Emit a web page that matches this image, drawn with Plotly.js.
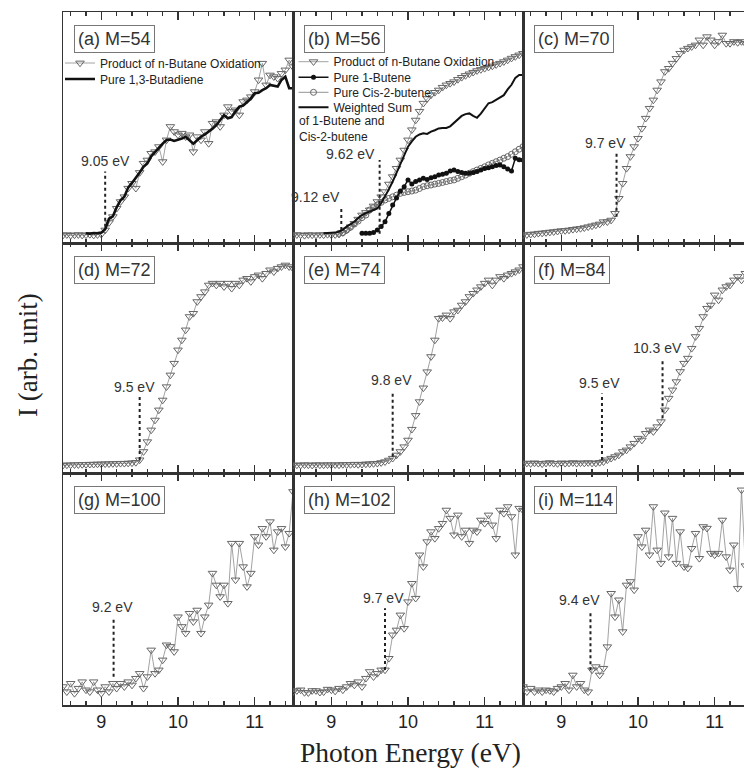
<!DOCTYPE html>
<html><head><meta charset="utf-8">
<script src="https://cdn.plot.ly/plotly-3.0.1.min.js"></script>
<style>html,body{margin:0;padding:0;background:#fff}#chart{width:744px;height:768px}</style>
</head><body><div id="chart"></div>
<script>
// Photon energy grid (eV)
const energy = [8.50,8.55,8.60,8.65,8.70,8.75,8.80,8.85,8.90,8.95,9.00,
9.05,9.10,9.15,9.20,9.25,9.30,9.35,9.40,9.45,9.50,
9.55,9.60,9.65,9.70,9.75,9.80,9.85,9.90,9.95,10.00,
10.05,10.10,10.15,10.20,10.25,10.30,10.35,10.40,10.45,10.50,
10.55,10.60,10.65,10.70,10.75,10.80,10.85,10.90,10.95,11.00,
11.05,11.10,11.15,11.20,11.25,11.30,11.35,11.40,11.45,11.50];

// (a) M=54
const a_product = [3.4,3.6,3.3,3.5,3.6,3.4,3.5,3.7,3.4,3.6,3.8,
5.6,8.8,11.4,15,17.9,20,23.7,25.8,23.7,30.5,
34.5,35.9,38.8,39.5,41.7,35.2,44.6,50.4,48.2,46.8,
47.5,46,46.8,39.5,46,44.6,48.2,43.1,51.8,52.5,
50.4,55.4,59,56.9,57.6,55.4,61.2,61.9,63.3,65.5,
70.6,77.8,68.4,72.7,72,71.3,73.4,74.9,79.2,76.3];
const a_butadiene = [null,null,null,null,null,null,4.2,4.0,4.3,4.2,4.5,
6.0,10.5,11.5,15.5,18.5,20,24,26,28,30.5,
33,34.5,37.5,39.5,41,43,44.6,44.8,44.2,44.6,
45.2,46,44.5,43,44.5,46,47,48.2,49.5,51,
53,55.4,54,54.5,57,59,59.5,61.2,62.5,64.8,
65,66.2,67,68.4,68,67.7,70.6,72,67,67];

// (b) M=56
const b_product = [3.4,3.6,3.5,3.3,3.6,3.5,3.4,3.6,3.5,3.7,3.5,
3.6,3.8,4.5,5.6,7,8.5,10.3,12.1,13.2,14.3,
16,17.9,20,22.2,25.5,28.7,32.3,35.9,40.2,44.6,
49,53.2,57,60.5,62.5,64.1,65.2,66.2,67.4,68.4,
69.1,69.8,70.8,71.7,72.5,73.2,73.9,74.6,75.1,75.6,
76.1,76.6,77.2,77.8,78.5,79.2,80,80.7,81.4,82.1];
const b_1butene = [null,null,null,null,null,null,null,null,null,null,null,
null,null,null,null,null,null,null,4.2,4.2,4.2,
4.5,5.6,7.1,9.2,12.8,16.5,19.5,22.5,24.4,27.3,
25.5,26.6,27.3,28,27.5,28.3,28.7,29.4,29.8,30.2,
31.2,31.6,31,30.5,30.2,30.2,30.5,30.9,31.6,32.3,
32.6,33,33.5,33.8,33,32,31.2,36.7,36,35.9];
const b_cis2butene = [null,null,null,null,null,null,null,null,null,null,null,
null,4.2,4.5,5.6,6.8,8.2,9.5,11,12.1,14.3,
15.3,16.5,17.6,18.6,19.3,20,20.7,21.5,21.9,22.2,
22.5,22.9,23.6,24.4,24.8,25.1,25.5,25.8,26.2,26.6,
27,27.3,28,28.7,29.4,30.2,30.9,31.6,32.3,33,
33.8,34.5,35.2,35.9,36.7,37.4,38.4,39.5,40.6,41.7];
const b_weighted = [null,null,null,null,null,null,null,null,4.2,4.2,4.2,
4.5,4.9,5.8,7.1,8.2,9.2,10.8,12.1,12.9,13.6,
14.2,15,17.2,20,23.2,26.6,30.5,34.5,38.3,41.7,
44,46,47,47.5,47.2,48.2,48.8,49.6,49.8,49.8,
50.5,52,53.5,55,55.8,56.1,55,54.2,56,58.5,
60.5,61,62,63.3,64,66.5,68.5,71.5,72.7,72.7];

// (c)-(i)
const c_product = [3.5,3.6,3.8,3.9,4.2,4.3,4.5,4.7,4.9,5.1,5.3,
5.4,5.6,5.9,6.1,6.3,6.6,7.0,7.4,7.8,8.2,
9.2,9.2,9.9,12.8,19.3,25.8,32.3,37.4,41.7,45.3,
49.6,54,58.3,61.9,66.2,69.8,74.2,75.6,77.8,79.9,
82.1,83.5,84.3,85,85.7,87.9,85.7,89.3,87.9,85.7,
87.2,90,86.4,86.4,87.2,86.8,87.2,86.4,86.8,86.4];
const d_product = [3.4,3.5,3.5,3.6,3.6,3.7,3.7,3.8,3.8,3.9,3.9,
4.0,4.0,4.1,4.1,4.2,4.2,4.3,4.4,4.6,5.7,
9.3,13.6,18.7,23,27.4,31.7,37.5,42.6,47.7,53.5,
57.8,62.2,68,69.4,74.5,76.7,78.8,81.7,82.5,81.7,
82.5,81,82.5,80.3,82.5,81.7,83.9,84.6,83.2,85.4,
86.1,84.6,86.8,88.3,87.5,89,89.7,90.4,89.7,89];
const e_product = [3.4,3.5,3.4,3.6,3.5,3.4,3.6,3.5,3.5,3.6,3.5,
3.6,3.5,3.7,3.6,3.7,3.8,3.7,3.8,3.9,4.0,
4.1,4.2,4.5,4.9,5.6,6.4,7.8,9.3,11.4,14.3,
19,25,31,37,44,50.6,57.8,67.2,67.5,68.7,
67.2,70.1,70.8,73,74.5,76.7,78.1,79.6,81,82.5,
83.9,81.7,83.9,85.4,84.6,86.1,86.8,87.5,88.3,89.7];
const f_product = [4.0,4.3,4.1,4.4,4.2,4.0,4.3,4.5,4.2,4.1,4.4,
4.2,4.3,4.5,4.2,4.4,4.3,4.5,4.3,4.3,4.6,
4.9,5.7,6.4,7.1,7.8,9.3,10,11.4,12.9,15.1,
14.3,17.2,18.7,18,20.1,22.3,27.4,32.5,36.1,39.7,
44.1,47.7,49.9,54.2,59.3,62.9,68,71.6,73,77.4,
75.2,79.6,81,81.7,83.9,85.4,83.9,86.8,87,88];
const g_product = [7.9,5.7,9.3,5,7.2,10,6.5,5.7,10,6.5,5,
7.9,5.7,9.3,7.2,9.3,7.9,10,8.6,11.5,13.6,
7.2,12.2,23.7,13.6,15.1,19.4,25.9,25.2,23,38,
33.8,30.9,39.5,35.9,40.9,30.9,38,43.1,56.8,51.7,
46.7,51.7,43.8,69.7,53.9,69.7,59.6,51,56.8,72.6,
69,76.1,72.6,79,66.8,74.7,76.1,68.2,74,92];
const h_product = [5.7,6.2,6.5,5.4,5.3,6.2,6.2,5.5,5.7,6.8,6.5,
6,7.2,6.5,7.9,9.3,8.6,10,7.9,11.5,14.4,
12.2,13.6,15.1,15.1,20.1,30.2,32.3,38.8,33,44.5,
52.4,46,64.7,59.6,70.4,74.7,71.8,76.1,78.3,84,
80.5,73.3,81.9,72.6,75.4,69.7,75.4,74.7,79.7,78.3,
81.9,77.6,71.8,84,82.6,85.5,81.2,64.7,84.8,84];
const i_product = [7.9,5.7,7.2,5.7,6.5,5.7,6.5,6.2,5.7,7.2,7.9,
9.3,6.5,12.9,7.9,9.3,6.5,5.7,15.1,16.5,12.9,
15.8,25.1,48.1,38,45.3,31.6,51.7,53.2,49.6,72.6,
68.2,75.4,64.7,85.5,66.8,61.1,82.8,63.9,80.5,61.1,
74.7,59.6,59,67.5,74,63.2,76.9,76.2,65.4,64.7,
65.4,79.7,63.9,58.2,69,50.3,92.7,60,62,65];

const panelLabels = ['(a) M=54','(b) M=56','(c) M=70','(d) M=72','(e) M=74','(f) M=84','(g) M=100','(h) M=102','(i) M=114'];
const productSeries = [a_product,b_product,c_product,d_product,e_product,f_product,g_product,h_product,i_product];

// onset (ionization threshold) markers
const onsetPanel  = [1,2,2,3,4,5,6,6,7,8,9];
const onsetEnergy = [9.05,9.12,9.62,9.7,9.5,9.8,9.5,10.3,9.2,9.7,9.4];
const onsetText   = ['9.05 eV','9.12 eV','9.62 eV','9.7 eV','9.5 eV','9.8 eV','9.5 eV','10.3 eV','9.2 eV','9.7 eV','9.4 eV'];
// drawing geometry for the markers (line x, bottom, top; label x, y, anchor)
const onsetLineX = [9.05,9.13,9.63,9.72,9.50,9.80,9.53,10.32,9.16,9.70,9.38];
const onsetY0    = [7,5.6,4,11.4,5.7,7.1,5.7,23.8,12.2,15.1,15];
const onsetY1    = [31,15.7,35.9,39.5,33.2,35.4,34.6,49.9,37.4,41.7,40.2];
const onsetLabX  = [9.05,9.14,9.60,9.58,9.43,9.78,9.50,10.26,9.14,9.68,9.24];
const onsetLabY  = [35.5,20,38.5,43.1,37.5,40.4,39,54.2,42.4,46,45.3];
const onsetAnch  = ['center','right','right','center','center','center','center','center','center','center','center'];

const tickValues = [9,10,11];
const tickLabels = ['9','10','11'];

const SANS = 'Liberation Sans, Arial, sans-serif';
const SERIF = 'Liberation Serif, Times New Roman, serif';
const X = p => p===1 ? 'x' : 'x'+p;
const Y = p => p===1 ? 'y' : 'y'+p;

const W = 744, H = 768, ML = 63, MT = 12, MB = 63;
const PW = W - ML, PH = H - MT - MB;
const colPx = [[63,293],[293,523],[523,744]];
const rowPx = [[12,243],[243,473],[473,705]];
const pxToPaperX = px => (px - ML)/PW;
const pxToPaperY = py => (H - MB - py)/PH;

const layout = {
  width: W, height: H,
  margin: {l: ML, r: 0, t: MT, b: MB},
  paper_bgcolor: '#fff', plot_bgcolor: '#fff',
  font: {family: SANS, color: '#222'},
  showlegend: true,
  annotations: [], shapes: []
};

for (let p = 1; p <= 9; p++) {
  const col = (p-1)%3, row = Math.floor((p-1)/3);
  const cx = colPx[col], ry = rowPx[row];
  const xmax = 8.5 + (cx[1]-cx[0])/76.67;
  layout['xaxis'+(p===1?'':p)] = {
    domain: [pxToPaperX(cx[0]), pxToPaperX(cx[1])], anchor: Y(p),
    range: [8.5, col===2 ? xmax : 11.5],
    showline: true, linecolor: '#333', linewidth: 1.5, mirror: 'ticks',
    ticks: 'inside', ticklen: 8, tickwidth: 1.5, tickcolor: '#333',
    tickmode: 'array', tickvals: tickValues, ticktext: tickLabels,
    minor: {tick0: 9, dtick: 0.2, ticks: 'inside', ticklen: 4, tickwidth: 1.2, tickcolor: '#333', showgrid: false},
    showgrid: false, zeroline: false,
    showticklabels: row===2, tickfont: {family: SANS, size: 18, color: '#222'}
  };
  layout['yaxis'+(p===1?'':p)] = {
    domain: [pxToPaperY(ry[1]), pxToPaperY(ry[0])], anchor: X(p),
    range: [0, 100],
    showline: true, linecolor: '#333', linewidth: 1.5, mirror: col===2 ? false : true,
    ticks: '', showticklabels: false, showgrid: false, zeroline: false
  };
  layout.annotations.push({
    xref: X(p)+' domain', yref: Y(p)+' domain',
    x: 11/(cx[1]-cx[0]), y: 1 - 13/(ry[1]-ry[0]),
    xanchor: 'left', yanchor: 'top', showarrow: false,
    text: panelLabels[p-1], font: {family: SANS, size: 18, color: '#333'},
    bordercolor: '#777', borderwidth: 1, borderpad: 3, bgcolor: '#fff'
  });
}

const traces = [];
const triMarker = {symbol: 'triangle-down-open', size: 7.5, color: '#666', line: {width: 1}};
productSeries.forEach((ys, k) => {
  const p = k+1;
  const t = {type: 'scatter', mode: 'lines+markers', x: energy, y: ys, xaxis: X(p), yaxis: Y(p),
    marker: triMarker, line: {color: '#8a8a8a', width: 0.8}, showlegend: false,
    name: 'Product of n-Butane Oxidation'};
  if (p === 1) { t.showlegend = true; t.legend = 'legend'; }
  if (p === 2) { t.showlegend = true; t.legend = 'legend3'; }
  traces.push(t);
});
traces.push({type: 'scatter', mode: 'lines', x: energy, y: a_butadiene, xaxis: 'x', yaxis: 'y',
  line: {color: '#111', width: 2.6}, name: 'Pure 1,3-Butadiene', legend: 'legend2'});
traces.push({type: 'scatter', mode: 'lines+markers', x: energy, y: b_cis2butene, xaxis: 'x2', yaxis: 'y2',
  marker: {symbol: 'circle-open', size: 6, color: '#666', line: {width: 1}}, line: {color: '#777', width: 0.8},
  name: 'Pure Cis-2-butene', legend: 'legend5'});
traces.push({type: 'scatter', mode: 'lines+markers', x: energy, y: b_1butene, xaxis: 'x2', yaxis: 'y2',
  marker: {symbol: 'circle', size: 5, color: '#111'}, line: {color: '#111', width: 1.5},
  name: 'Pure 1-Butene', legend: 'legend4'});
traces.push({type: 'scatter', mode: 'lines', x: energy, y: b_weighted, xaxis: 'x2', yaxis: 'y2',
  line: {color: '#111', width: 2}, name: 'Weighted Sum', legend: 'legend6'});

// legends: one per entry so the spacing matches
const legFont = {family: SANS, size: 12, color: '#222'};
const legendPos = {
  legend:  [60, 63],
  legend2: [60, 79],
  legend3: [293.5, 61.7],
  legend4: [293.5, 77.3],
  legend5: [293.5, 92.3],
  legend6: [293.5, 107.3]
};
Object.keys(legendPos).forEach(k => {
  layout[k] = {x: pxToPaperX(legendPos[k][0]), y: pxToPaperY(legendPos[k][1]), xanchor: 'left', yanchor: 'middle',
    bgcolor: 'rgba(0,0,0,0)', borderwidth: 0, font: legFont, itemwidth: 30, tracegroupgap: 0};
});
layout.annotations.push({xref: 'paper', yref: 'paper', x: pxToPaperX(296.5), y: pxToPaperY(129),
  xanchor: 'left', yanchor: 'middle', align: 'left', showarrow: false,
  text: 'of 1-Butene and<br>Cis-2-butene', font: legFont});

onsetPanel.forEach((p, k) => {
  layout.shapes.push({type: 'line', xref: X(p), yref: Y(p), x0: onsetLineX[k], x1: onsetLineX[k],
    y0: onsetY0[k], y1: onsetY1[k], line: {color: '#222', width: 2, dash: 'dot'}});
  layout.annotations.push({xref: X(p), yref: Y(p), x: onsetLabX[k], y: onsetLabY[k],
    xanchor: onsetAnch[k], yanchor: 'middle', showarrow: false, text: onsetText[k],
    font: {family: SANS, size: 14, color: '#333'}});
});

layout.annotations.push({xref: 'paper', yref: 'paper', x: pxToPaperX(410), y: pxToPaperY(752),
  xanchor: 'center', yanchor: 'middle', showarrow: false, text: 'Photon Energy (eV)',
  font: {family: SERIF, size: 27.5, color: '#222'}});
layout.annotations.push({xref: 'paper', yref: 'paper', x: pxToPaperX(28), y: pxToPaperY(355),
  xanchor: 'center', yanchor: 'middle', showarrow: false, textangle: -90, text: 'I (arb. unit)',
  font: {family: SERIF, size: 27, color: '#222'}});

Plotly.newPlot('chart', traces, layout, {displayModeBar: false, staticPlot: true});
</script></body></html>
